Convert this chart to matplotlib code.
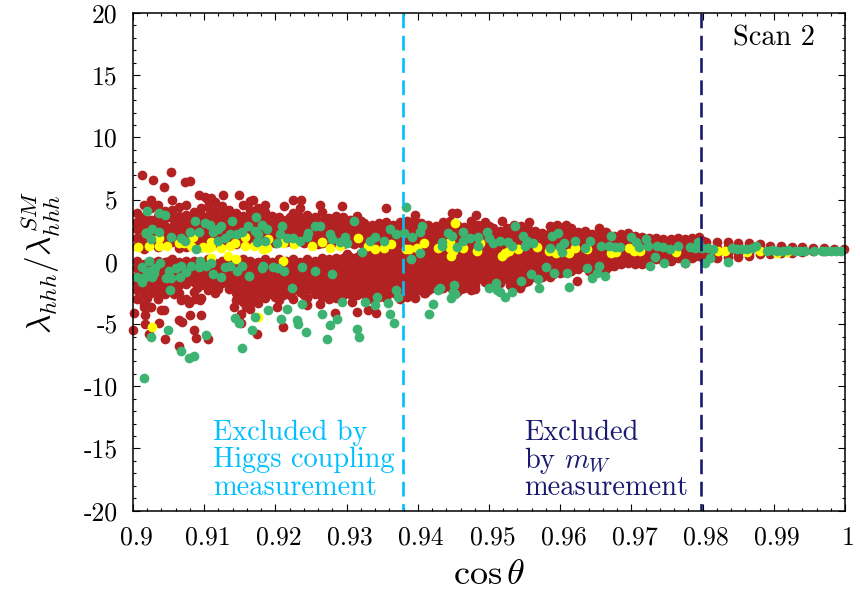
import matplotlib
matplotlib.use("Agg")
import matplotlib.pyplot as plt
from matplotlib.transforms import ScaledTranslation

plt.rcParams['mathtext.fontset'] = 'cm'
plt.rcParams['font.family'] = ['cmr10', 'DejaVu Serif']
plt.rcParams['axes.unicode_minus'] = False
plt.rcParams['axes.formatter.use_mathtext'] = True

x_ticks = [0.9, 0.91, 0.92, 0.93, 0.94, 0.95, 0.96, 0.97, 0.98, 0.99, 1.0]
x_tick_labels = ['0.9', '0.91', '0.92', '0.93', '0.94', '0.95', '0.96', '0.97', '0.98', '0.99', '1']
y_ticks = [-20, -15, -10, -5, 0, 5, 10, 15, 20]
y_tick_labels = ['-20', '-15', '-10', '-5', '0', '5', '10', '15', '20']

higgs_limit = 0.9379
mw_limit = 0.9798

# Dense red band, read column by column
red_col_x = [0.9005, 0.9015, 0.9025, 0.9035, 0.9045, 0.9055, 0.9065, 0.9075, 0.9085, 0.9095,
             0.9105, 0.9115, 0.9125, 0.9135, 0.9145, 0.9155, 0.9165, 0.9175, 0.9185, 0.9195,
             0.9205, 0.9215, 0.9225, 0.9235, 0.9245, 0.9255, 0.9265, 0.9275, 0.9285, 0.9295,
             0.9305, 0.9315, 0.9325, 0.9335, 0.9345, 0.9355, 0.9365, 0.9375, 0.9385, 0.9395,
             0.9405, 0.9415, 0.9425, 0.9435, 0.9445, 0.9455, 0.9465, 0.9475, 0.9485, 0.9495,
             0.9505, 0.9515, 0.9525, 0.9535, 0.9545, 0.9555, 0.9565, 0.9575, 0.9585, 0.9595,
             0.9605, 0.9615, 0.9625, 0.9635, 0.9645, 0.9655, 0.9665, 0.9675, 0.9685, 0.9695,
             0.9705, 0.9715, 0.9725, 0.9735, 0.9745, 0.9755, 0.9765, 0.9775, 0.9785, 0.9795,
             0.9805, 0.9820, 0.9835, 0.9850, 0.9865, 0.9880, 0.9895, 0.9910, 0.9925, 0.9940,
             0.9955, 0.9970, 0.9985, 0.9998]
red_col_y = [
    [3.9, 3.2, 2.6, 1.9, 1.3, 0.1, -0.5, -1.1, -1.7, -2.3, -3.0],
    [4.6, 3.6, 3.0, 2.3, 1.6, 1.0, -0.2, -0.8, -1.4, -2.0, -2.7, -3.4],
    [5.0, 4.3, 3.4, 2.8, 2.1, 1.4, 0.0, -0.6, -1.2, -1.9, -2.5, -3.6],
    [4.6, 3.7, 3.1, 2.5, 1.8, 1.2, 0.1, -0.5, -1.1, -1.7, -2.4, -3.0],
    [4.1, 3.5, 2.9, 2.2, 1.5, 0.0, -0.6, -1.3, -1.9, -2.6],
    [5.0, 4.2, 3.5, 2.8, 2.2, 1.6, 0.2, -0.4, -1.0, -1.6, -2.2],
    [4.4, 3.7, 3.0, 2.4, 1.7, 1.1, 0.0, -0.6, -1.2, -1.9, -2.5],
    [4.6, 3.8, 3.2, 2.5, 1.9, 1.2, 0.1, -0.5, -1.1, -1.8, -3.0],
    [4.0, 3.3, 2.7, 2.0, 1.4, 0.1, -0.4, -1.0, -1.6, -2.4],
    [4.3, 3.8, 3.1, 2.4, 1.8, 1.2, 0.0, -0.6, -1.2, -1.9, -2.9],
    [5.0, 4.4, 3.7, 3.0, 2.3, 1.6, 0.2, -0.4, -1.0, -1.6, -2.3],
    [4.8, 4.1, 3.4, 2.8, 2.2, 1.5, -0.1, -0.7, -1.3, -1.9, -2.5],
    [4.5, 3.8, 3.1, 2.4, 1.7, 0.1, -0.5, -1.1, -1.7],
    [4.2, 3.5, 2.9, 2.2, 1.6, 0.2, -0.4, -1.0, -1.6, -2.2],
    [3.9, 3.3, 2.7, 2.0, 1.4, 0.0, -0.6, -1.2, -1.9, -2.5, -3.1],
    [4.6, 3.7, 3.1, 2.4, 1.8, 0.2, -0.4, -1.0, -1.6, -2.3, -3.2],
    [4.9, 4.2, 3.5, 2.8, 2.2, 1.6, 0.1, -0.5, -1.1, -1.8, -2.5, -3.4],
    [4.3, 3.6, 3.0, 2.3, 1.7, 0.0, -0.6, -1.2, -1.8, -2.5, -3.3],
    [4.0, 3.4, 2.8, 2.1, 1.4, 0.2, -0.4, -1.0, -1.6, -2.2, -2.9],
    [3.7, 3.2, 2.5, 1.9, 0.0, -0.6, -1.2, -1.9, -2.6],
    [3.6, 3.0, 2.4, 1.7, 0.2, -0.4, -1.0, -1.7, -2.4, -3.1],
    [3.4, 2.8, 2.2, 1.6, 0.1, -0.5, -1.1, -1.8, -2.5],
    [3.9, 3.2, 2.6, 2.0, 1.5, 0.2, -0.4, -1.0, -1.7, -2.3, -3.0],
    [4.3, 3.6, 2.9, 2.3, 1.7, 0.0, -0.6, -1.2, -1.8, -2.4],
    [3.8, 3.1, 2.5, 1.8, 0.2, -0.4, -1.1, -1.7, -2.3, -2.9],
    [3.6, 3.0, 2.4, 1.7, 0.1, -0.5, -1.1, -1.8, -2.6],
    [4.0, 3.3, 2.7, 2.1, 1.5, 0.3, -0.3, -0.9, -1.5, -2.1, -2.8],
    [3.5, 2.9, 2.3, 1.7, 0.2, -0.4, -1.0, -1.6, -2.2, -3.0],
    [3.7, 3.0, 2.4, 1.8, 0.3, -0.3, -0.9, -1.5, -2.2, -2.9],
    [3.6, 3.1, 2.5, 1.9, 1.4, 0.3, -0.3, -0.9, -1.5, -2.1, -2.7],
    [3.4, 2.8, 2.2, 1.6, 0.4, -0.2, -0.8, -1.4, -2.0, -2.6],
    [3.7, 3.0, 2.4, 1.8, 0.4, -0.2, -0.8, -1.4, -2.0, -2.7],
    [3.1, 2.5, 1.9, 1.3, 0.5, -0.1, -0.7, -1.3, -1.9, -2.6],
    [3.0, 2.4, 1.8, 1.2, 0.6, 0.0, -0.6, -1.2, -1.8, -2.5, -3.0],
    [3.1, 2.5, 1.9, 1.3, 0.7, 0.1, -0.5, -1.1, -1.7, -2.3, -2.8],
    [3.2, 2.6, 2.0, 1.4, 0.8, 0.2, -0.4, -1.0, -1.6, -2.2, -2.9],
    [3.0, 2.4, 1.8, 1.2, 0.6, 0.0, -0.6, -1.2, -1.8, -2.4],
    [3.2, 2.6, 2.0, 1.4, 0.8, 0.2, -0.4, -1.0, -1.6, -2.2, -3.0],
    [3.3, 2.7, 2.1, 1.5, 0.9, 0.3, -0.3, -0.9, -1.5, -2.1, -2.7],
    [3.4, 2.8, 2.2, 1.6, 1.0, 0.4, -0.2, -0.8, -1.4, -2.0, -2.5],
    [3.1, 2.5, 1.9, 1.3, 0.7, 0.1, -0.5, -1.1, -1.7, -2.3],
    [3.0, 2.4, 1.8, 1.2, 0.6, 0.0, -0.6, -1.2, -1.8, -2.3],
    [2.9, 2.3, 1.7, 1.1, 0.5, -0.1, -0.7, -1.3, -1.9],
    [3.2, 2.6, 2.0, 1.4, 0.8, 0.2, -0.4, -1.0, -1.6, -2.1],
    [3.3, 2.7, 2.1, 1.5, 0.9, 0.3, -0.3, -0.9, -1.5, -2.0],
    [3.0, 2.4, 1.8, 1.2, 0.6, 0.0, -0.6, -1.2, -1.8, -2.4],
    [2.8, 2.2, 1.6, 1.0, 0.4, -0.2, -0.8, -1.4, -2.1],
    [3.3, 2.6, 2.0, 1.4, 0.8, 0.2, -0.4, -1.0, -1.6, -2.3],
    [3.0, 2.4, 1.8, 1.2, 0.6, 0.0, -0.6, -1.2],
    [3.2, 2.5, 1.9, 1.3, 0.7, 0.1, -0.5, -1.1, -1.6],
    [2.7, 2.1, 1.5, 0.9, 0.3, -0.3, -0.9, -1.4],
    [2.5, 1.9, 1.3, 0.7, 0.1, -0.5, -1.1, -1.7],
    [2.7, 2.1, 1.5, 0.9, 0.3, -0.3, -0.9, -1.3],
    [3.0, 2.4, 1.8, 1.2, 0.6, 0.0, -0.6, -1.2, -1.8],
    [2.9, 2.3, 1.7, 1.1, 0.5, -0.1, -0.7, -1.3, -1.9],
    [2.6, 2.0, 1.4, 0.8, 0.2, -0.4, -1.0, -1.5],
    [2.5, 1.9, 1.3, 0.7, 0.1, -0.5, -1.1],
    [2.3, 1.7, 1.1, 0.5, -0.1, -0.7, -1.1],
    [2.9, 2.3, 1.7, 1.1, 0.5, -0.1, -0.7, -1.2],
    [3.0, 2.4, 1.8, 1.2, 0.6, 0.0, -0.6],
    [2.8, 2.2, 1.6, 1.0, 0.4, -0.2, -0.8],
    [2.7, 2.1, 1.5, 0.9, 0.3, -0.3, -0.7],
    [2.4, 1.8, 1.2, 0.6, 0.0, -0.6],
    [2.5, 1.9, 1.3, 0.7, 0.1, -0.4],
    [2.2, 1.6, 1.0, 0.4, -0.2, -0.6],
    [2.7, 2.1, 1.5, 0.9, 0.3, -0.2, -0.7],
    [2.4, 1.8, 1.2, 0.6, 0.0, -0.6],
    [2.1, 1.5, 0.9, 0.3, -0.3],
    [2.2, 1.6, 1.0, 0.4, -0.2],
    [2.3, 1.7, 1.1, 0.5, -0.1],
    [2.1, 1.5, 0.9, 0.3, -0.2],
    [2.0, 1.4, 0.8, 0.2, -0.2],
    [1.9, 1.3, 0.7, 0.1],
    [1.9, 1.3, 0.7, 0.2],
    [1.8, 1.2, 0.6, 0.1],
    [1.8, 1.2, 0.7, 0.1],
    [1.9, 1.4, 0.8, 0.3],
    [1.8, 1.3, 0.7, 0.2, -0.1],
    [1.9, 1.4, 0.8, 0.3],
    [2.0, 1.5, 1.0, 0.5],
    [1.6, 1.1, 0.6, 0.2],
    [1.6, 1.1, 0.6, 0.3],
    [1.6, 1.2, 0.7, 0.4],
    [1.5, 1.1, 0.7, 0.4],
    [1.5, 1.1, 0.7, 0.5],
    [1.4, 1.0, 0.6],
    [1.3, 0.9, 0.6],
    [1.3, 0.9, 0.7],
    [1.2, 0.9, 0.7],
    [1.2, 0.9, 0.8],
    [1.1, 0.9],
    [1.1, 0.9],
    [1.05, 0.95],
    [1.0],
]

# In-between points that close up the dense band
red_fill_x = [0.9010, 0.9020, 0.9030, 0.9040, 0.9050, 0.9060, 0.9070, 0.9080, 0.9090, 0.9100,
              0.9110, 0.9120, 0.9130, 0.9140, 0.9150, 0.9160, 0.9170, 0.9180, 0.9190, 0.9200,
              0.9210, 0.9220, 0.9230, 0.9240, 0.9250, 0.9260, 0.9270, 0.9280, 0.9290, 0.9300,
              0.9310, 0.9320, 0.9330, 0.9340, 0.9350, 0.9360, 0.9370, 0.9380, 0.9390, 0.9400,
              0.9410, 0.9420, 0.9430, 0.9440, 0.9450, 0.9460, 0.9470, 0.9480, 0.9490, 0.9500,
              0.9510, 0.9520, 0.9530, 0.9540, 0.9550, 0.9560, 0.9570, 0.9580, 0.9590, 0.9600,
              0.9610, 0.9620, 0.9630, 0.9640, 0.9650, 0.9660, 0.9670, 0.9680, 0.9690, 0.9700,
              0.9710, 0.9720, 0.9730, 0.9740, 0.9750, 0.9760, 0.9770, 0.9780, 0.9790, 0.9800]
red_fill_y = [
    [3.4, 2.7, 1.7, -0.3, -0.9, -1.6, -2.2],
    [3.3, 2.6, 1.9, -0.4, -1.1, -1.7, -2.9],
    [3.1, 2.4, 1.6, -0.2, -0.9, -1.5, -2.1],
    [3.3, 2.7, 2.0, -0.3, -0.8, -1.5, -2.1],
    [3.7, 2.5, 1.8, 0.1, -1.0, -1.6],
    [3.1, 2.5, 1.9, -0.1, -0.9, -1.5, -2.4],
    [3.4, 2.7, 2.0, -0.3, -0.9, -1.6],
    [3.5, 2.8, 2.2, -0.2, -0.8, -1.4],
    [3.6, 3.0, 2.3, 1.6, -0.2, -0.8, -1.3, -2.1],
    [3.4, 2.8, 2.1, -0.3, -0.9, -1.6],
    [4.0, 3.3, 2.6, 1.9, -0.1, -0.7, -1.3, -1.9],
    [3.7, 3.1, 2.5, 1.8, -0.4, -1.0, -1.6, -2.2],
    [4.0, 3.4, 2.7, 2.0, -0.2, -0.8, -1.4],
    [3.8, 3.2, 2.5, 1.9, -0.1, -0.7, -1.3, -1.9],
    [3.6, 3.0, 2.3, 1.7, -0.3, -0.9, -1.6, -2.2, -2.8],
    [3.3, 2.7, 2.1, 1.5, -0.1, -0.7, -1.3, -2.0, -2.8],
    [3.8, 3.1, 2.5, 1.9, -0.2, -0.8, -1.4, -2.1, -2.9],
    [3.7, 3.1, 2.4, 1.9, -0.3, -0.9, -1.5, -2.2, -2.6],
    [3.1, 2.5, 1.8, -0.1, -0.7, -1.3, -1.9, -2.5],
    [3.3, 2.7, 2.1, 1.5, -0.3, -0.9, -1.5, -2.2, -2.8],
    [3.1, 2.6, 2.0, -0.1, -0.7, -1.4, -2.1, -2.7],
    [3.6, 2.9, 2.3, 1.7, 0.0, -0.7, -1.4, -2.1, -2.7],
    [3.5, 2.9, 2.2, 1.7, -0.1, -0.7, -1.3, -2.0],
    [3.4, 2.7, 2.1, 1.5, -0.2, -0.8, -1.5, -2.1, -2.7],
    [3.3, 2.7, 2.1, 1.5, -0.1, -0.8, -1.4, -2.0],
    [3.2, 2.7, 2.0, 1.4, 0.0, -0.6, -1.2, -1.9, -2.4],
    [3.5, 2.9, 2.2, 1.6, 0.0, -0.6, -1.2, -1.8, -2.5],
    [3.2, 2.6, 2.0, 1.5, 0.0, -0.7, -1.3, -1.9, -2.6],
    [3.3, 2.7, 2.1, 1.6, 0.0, -0.6, -1.2, -1.9, -2.5],
    [3.3, 2.7, 2.2, 1.7, 0.6, 0.0, -0.6, -1.2, -1.8, -2.4],
    [3.1, 2.5, 1.9, 1.4, 0.1, -0.5, -1.1, -1.7, -2.3],
    [3.3, 2.7, 2.1, 1.5, 0.7, 0.1, -0.5, -1.1, -1.7, -2.3],
    [2.8, 2.2, 1.6, 1.0, 0.2, -0.4, -1.0, -1.6, -2.2, -2.8],
    [2.7, 2.1, 1.5, 0.9, 0.3, -0.3, -0.9, -1.5, -2.1, -2.7],
    [2.8, 2.2, 1.6, 1.0, 0.4, -0.2, -0.8, -1.4, -2.0, -2.6],
    [2.9, 2.3, 1.7, 1.1, 0.5, -0.1, -0.7, -1.3, -1.9, -2.5],
    [2.7, 2.1, 1.5, 0.9, 0.3, -0.3, -0.9, -1.5, -2.1, -2.6],
    [2.9, 2.3, 1.7, 1.1, 0.5, -0.1, -0.7, -1.3, -1.9, -2.6],
    [3.0, 2.4, 1.8, 1.2, 0.6, 0.0, -0.6, -1.2, -1.8, -2.4],
    [3.1, 2.5, 1.9, 1.3, 0.7, 0.1, -0.5, -1.1, -1.7, -2.3],
    [2.8, 2.2, 1.6, 1.0, 0.4, -0.2, -0.8, -1.4, -2.0, -2.5],
    [2.7, 2.1, 1.5, 0.9, 0.3, -0.3, -0.9, -1.5, -2.1],
    [2.6, 2.0, 1.4, 0.8, 0.2, -0.4, -1.0, -1.6, -2.2],
    [2.9, 2.3, 1.7, 1.1, 0.5, -0.1, -0.7, -1.3, -1.8],
    [3.0, 2.4, 1.8, 1.2, 0.6, 0.0, -0.6, -1.2, -1.7],
    [2.7, 2.1, 1.5, 0.9, 0.3, -0.3, -0.9, -1.5, -2.2],
    [2.5, 1.9, 1.3, 0.7, 0.1, -0.5, -1.1, -1.7],
    [3.0, 2.3, 1.7, 1.1, 0.5, -0.1, -0.7, -1.3, -1.9],
    [2.7, 2.1, 1.5, 0.9, 0.3, -0.3, -0.9, -1.4],
    [2.9, 2.2, 1.6, 1.0, 0.4, -0.2, -0.8, -1.3],
    [2.4, 1.8, 1.2, 0.6, 0.0, -0.6, -1.2, -1.6],
    [2.2, 1.6, 1.0, 0.4, -0.2, -0.8, -1.4],
    [2.4, 1.8, 1.2, 0.6, 0.0, -0.6, -1.1],
    [2.7, 2.1, 1.5, 0.9, 0.3, -0.3, -0.9, -1.5],
    [2.6, 2.0, 1.4, 0.8, 0.2, -0.4, -1.0, -1.6],
    [2.3, 1.7, 1.1, 0.5, -0.1, -0.7, -1.2],
    [2.2, 1.6, 1.0, 0.4, -0.2, -0.8],
    [2.0, 1.4, 0.8, 0.2, -0.4, -0.9],
    [2.6, 2.0, 1.4, 0.8, 0.2, -0.4, -1.0],
    [2.7, 2.1, 1.5, 0.9, 0.3, -0.3, -0.9],
    [2.5, 1.9, 1.3, 0.7, 0.1, -0.5],
    [2.4, 1.8, 1.2, 0.6, 0.0, -0.5],
    [2.1, 1.5, 0.9, 0.3, -0.3],
    [2.2, 1.6, 1.0, 0.4, -0.2, -0.7],
    [1.9, 1.3, 0.7, 0.1, -0.4],
    [2.4, 1.8, 1.2, 0.6, 0.0, -0.5],
    [2.1, 1.5, 0.9, 0.3, -0.3],
    [1.8, 1.2, 0.6, 0.0],
    [1.9, 1.3, 0.7, 0.1],
    [2.0, 1.4, 0.8, 0.2],
    [1.8, 1.2, 0.6, 0.1],
    [1.7, 1.1, 0.5, 0.0],
    [1.6, 1.0, 0.4],
    [1.6, 1.0, 0.4],
    [1.5, 0.9, 0.4],
    [1.5, 0.9, 0.4],
    [1.6, 1.1, 0.5],
    [1.5, 1.0, 0.4],
    [1.6, 1.1, 0.5],
    [1.7, 1.2, 0.7, 0.3],
]

# Isolated red points
red_out_x = [0.9013, 0.9028, 0.9054, 0.9044, 0.9073, 0.9080, 0.9092, 0.9101, 0.9110, 0.9126, 0.9149, 0.9169,
             0.9185, 0.9212, 0.9225, 0.9236, 0.9263, 0.9293, 0.9356,
             0.9002, 0.9000, 0.9017, 0.9022, 0.9045, 0.9037, 0.9065, 0.9069, 0.9080, 0.9096, 0.9086, 0.9088,
             0.9105, 0.9065, 0.9142, 0.9152, 0.9152, 0.9174, 0.9210, 0.9284, 0.9315, 0.9330, 0.9341, 0.9263,
             0.9244, 0.9039, 0.9043, 0.9015, 0.9024, 0.9068, 0.9078, 0.9087, 0.9094, 0.9017, 0.9057, 0.9164,
             0.9159, 0.9202, 0.9307, 0.9288,
             0.9448, 0.9455, 0.9482, 0.9518, 0.9556, 0.9608, 0.9590, 0.9396, 0.9385, 0.9396, 0.9409, 0.9470,
             0.9623, 0.9544, 0.9575, 0.9440, 0.9460, 0.9480, 0.9530, 0.9500]
red_out_y = [7.0, 6.6, 7.2, 6.0, 6.4, 6.5, 5.4, 5.2, 5.1, 5.4, 5.4, 5.0,
             4.6, 4.5, 5.0, 5.0, 4.6, 4.5, 4.3,
             -4.1, -5.5, -5.0, -5.8, -6.2, -4.9, -4.7, -4.8, -4.3, -4.3, -5.5, -6.1,
             -6.2, -6.8, -3.6, -4.2, -4.9, -5.8, -5.2, -4.1, -4.0, -3.9, -4.1, -3.4,
             -3.5, -3.9, -3.9, -3.6, -3.6, -3.1, -3.3, -3.0, -3.1, -4.3, -2.6, -3.8,
             -3.6, -3.6, -3.2, -2.8,
             3.9, 3.9, 3.8, 3.3, 3.2, 3.0, 2.8, 3.8, -2.8, -2.9, -2.5, -2.0,
             -1.5, -2.1, -1.2, -1.9, -2.0, -2.2, -1.9, -1.8]

yellow_x = [0.9007, 0.9023, 0.9036, 0.9036, 0.9018, 0.9048, 0.9064, 0.9071, 0.9082, 0.9084, 0.9099, 0.9106,
            0.9110, 0.9110, 0.9124, 0.9136, 0.9143, 0.9157, 0.9157, 0.9170, 0.9183, 0.9188, 0.9190, 0.9211,
            0.9226, 0.9252, 0.9265, 0.9277, 0.9291, 0.9316, 0.9330, 0.9340, 0.9352, 0.9363, 0.9384,
            0.9110, 0.9133, 0.9145, 0.9210, 0.9026, 0.9176,
            0.9387, 0.9399, 0.9409, 0.9429, 0.9445, 0.9452, 0.9445, 0.9450, 0.9464, 0.9446, 0.9483, 0.9488,
            0.9518, 0.9523, 0.9528, 0.9541, 0.9567, 0.9584, 0.9594, 0.9612, 0.9621, 0.9637, 0.9672, 0.9679,
            0.9696, 0.9703, 0.9712, 0.9763, 0.9822, 0.9832, 0.9862, 0.9881, 0.9904, 0.9918]
yellow_y = [1.2, 1.3, 1.3, 1.9, 2.3, 1.3, 1.5, 1.5, 1.3, 2.0, 1.2, 1.1,
            1.6, 1.2, 1.1, 1.3, 1.5, 1.3, 2.0, 1.3, 1.0, 1.1, 1.8, 1.5,
            1.4, 1.3, 1.6, 1.1, 1.3, 1.9, 1.3, 1.0, 1.1, 1.4, 1.0,
            0.3, 0.5, 0.2, 0.1, -5.2, -4.4,
            1.0, 1.1, 1.5, 1.1, 1.6, 3.1, 1.1, 0.9, 1.1, 0.5, 0.9, 1.5,
            0.5, 0.7, 0.9, 1.0, 1.2, 0.9, 0.7, 0.7, 1.1, 1.0, 0.7, 0.8,
            1.1, 0.9, 0.9, 0.8, 0.9, 0.9, 0.8, 0.9, 0.7, 0.8]

green_upper_x = [0.9020, 0.9036, 0.9045, 0.9018, 0.9026, 0.9036, 0.9025, 0.9053, 0.9068, 0.9073, 0.9080, 0.9087,
                 0.9092, 0.9101, 0.9108, 0.9113, 0.9120, 0.9124, 0.9120, 0.9129, 0.9136, 0.9146, 0.9153, 0.9139,
                 0.9162, 0.9171, 0.9176, 0.9174, 0.9185, 0.9181, 0.9188, 0.9173, 0.9209, 0.9206, 0.9202, 0.9216,
                 0.9225, 0.9234, 0.9246, 0.9244, 0.9256, 0.9263, 0.9277, 0.9279, 0.9298, 0.9291, 0.9300, 0.9310,
                 0.9333, 0.9340, 0.9352, 0.9361, 0.9370, 0.9380, 0.9384, 0.9322, 0.9088,
                 0.9406, 0.9403, 0.9392, 0.9403, 0.9391, 0.9434, 0.9434, 0.9443, 0.9448, 0.9463, 0.9464, 0.9473,
                 0.9485, 0.9455, 0.9485, 0.9497, 0.9500, 0.9506, 0.9516, 0.9527, 0.9532, 0.9537, 0.9548, 0.9553,
                 0.9562, 0.9551, 0.9586, 0.9588, 0.9597, 0.9600, 0.9605, 0.9602, 0.9621, 0.9635, 0.9642, 0.9658,
                 0.9668, 0.9677, 0.9672, 0.9684, 0.9699, 0.9707, 0.9710, 0.9721, 0.9724, 0.9736, 0.9745, 0.9754,
                 0.9766, 0.9782, 0.9789, 0.9794, 0.9799, 0.9808, 0.9815, 0.9841, 0.9848, 0.9855, 0.9862, 0.9869,
                 0.9875, 0.9890, 0.9897, 0.9904, 0.9913, 0.9920, 0.9930, 0.9937, 0.9944, 0.9956, 0.9967, 0.9974,
                 0.9981, 0.9988, 0.9995]
green_upper_y = [4.1, 3.9, 3.8, 2.3, 2.6, 2.4, 1.8, 2.0, 1.9, 1.7, 2.4, 3.3,
                 2.4, 3.1, 3.0, 2.4, 2.6, 2.9, 1.7, 1.9, 2.2, 2.2, 2.4, 3.3,
                 2.9, 2.5, 2.2, 1.6, 1.7, 3.0, 2.6, 3.6, 2.9, 2.2, 1.5, 1.9,
                 1.9, 1.7, 2.3, 2.0, 2.9, 2.9, 2.2, 1.8, 2.0, 1.6, 1.5, 3.3,
                 1.7, 2.0, 1.7, 2.6, 2.2, 2.3, 4.4, 0.8, 1.0,
                 2.9, 2.4, 2.0, 0.7, 0.2, 1.6, 1.3, 2.3, 2.1, 2.4, 1.7, 1.9,
                 2.0, 1.2, 1.3, 2.4, 1.9, 1.5, 1.7, 1.6, 1.3, 2.9, 2.1, 1.7,
                 1.5, 1.3, 1.1, 2.1, 2.3, 1.2, 1.5, 0.8, 1.7, 1.1, 1.7, 1.3,
                 1.3, 1.2, 2.1, 1.2, 2.0, 1.6, 1.2, 1.8, 1.3, 1.3, 1.2, 1.0,
                 1.3, 1.2, 1.1, 1.6, 1.1, 1.1, 1.0, 1.1, 1.05, 1.05, 1.0, 1.1,
                 1.3, 0.9, 0.95, 0.9, 0.9, 0.95, 0.9, 0.9, 0.9, 0.9, 0.9, 0.9,
                 0.9, 0.9, 0.9]

green_lower_x = [0.9022, 0.9012, 0.9005, 0.9012, 0.9019, 0.9024, 0.9029, 0.9031, 0.9038, 0.9017, 0.9026, 0.9050,
                 0.9054, 0.9047, 0.9061, 0.9066, 0.9068, 0.9075, 0.9082, 0.9092, 0.9094, 0.9103, 0.9110, 0.9113,
                 0.9124, 0.9129, 0.9136, 0.9146, 0.9153, 0.9163, 0.9182, 0.9181, 0.9197, 0.9204, 0.9212, 0.9237,
                 0.9256, 0.9279, 0.9224, 0.9052, 0.9293, 0.9326, 0.9342, 0.9340, 0.9358, 0.9370, 0.9372, 0.9361,
                 0.9366, 0.9237, 0.9216, 0.9266, 0.9287, 0.9277, 0.9273, 0.9315, 0.9318, 0.9243, 0.9232, 0.9230,
                 0.9208, 0.9189, 0.9171, 0.9167, 0.9153, 0.9143, 0.9149, 0.9102, 0.9067, 0.9079, 0.9086, 0.9049,
                 0.9025, 0.9015,
                 0.9431, 0.9429, 0.9451, 0.9449, 0.9452, 0.9446, 0.9421, 0.9416, 0.9500, 0.9510, 0.9511, 0.9516,
                 0.9523, 0.9532, 0.9545, 0.9559, 0.9569, 0.9570, 0.9591, 0.9609, 0.9612, 0.9580, 0.9637, 0.9644,
                 0.9651, 0.9655, 0.9663, 0.9726, 0.9733, 0.9746, 0.9775, 0.9803, 0.9810, 0.9836]
green_lower_y = [0.1, -0.4, -1.2, -1.6, -0.8, -0.7, -0.9, -0.5, -0.1, -1.2, -1.2, -0.7,
                 -1.3, -1.3, -0.5, -1.2, -0.3, -0.8, -0.3, -0.4, 0.1, -0.3, -0.1, -1.0,
                 -1.2, -0.4, -0.3, -0.7, -0.3, -1.1, -0.3, -0.5, -0.4, -0.5, -0.7, -0.4,
                 -0.7, -1.0, -2.1, -2.3, -3.2, -3.2, -2.8, -3.5, -3.3, -2.3, -2.8, -4.2,
                 -4.9, -3.4, -3.8, -4.2, -4.6, -5.1, -6.2, -5.4, -6.0, -5.6, -5.0, -4.7,
                 -4.6, -3.9, -4.4, -5.5, -6.9, -4.5, -4.9, -5.9, -7.2, -7.7, -7.6, -5.5,
                 -6.0, -9.3,
                 -2.1, -2.3, -1.9, -2.4, -2.6, -2.9, -3.4, -4.2, -2.1, -1.7, -2.3, -2.4,
                 -2.8, -2.4, -1.5, -1.0, -1.4, -2.1, -0.9, -0.9, -2.0, -0.4, -0.5, -1.3,
                 -0.9, -0.3, -1.1, -0.3, 0.4, -0.1, -0.1, -0.1, 0.3, 0.0]

RED = '#B22222'
YELLOW = '#FFFF00'
GREEN = '#3CB371'
CYAN = '#00BFFF'
NAVY = '#191970'
MS = 7.0

fig = plt.figure(figsize=(8.6, 5.92), dpi=100)
ax = fig.add_axes([133/860, 1 - 510.7/592, (845 - 133)/860, (510.7 - 13)/592])

for cx, ys in zip(red_col_x, red_col_y):
    ax.plot([cx] * len(ys), ys, 'o', color=RED, ms=MS, mew=0, clip_on=False)
for cx, ys in zip(red_fill_x, red_fill_y):
    ax.plot([cx] * len(ys), ys, 'o', color=RED, ms=MS, mew=0, clip_on=False)
ax.plot(red_out_x, red_out_y, 'o', color=RED, ms=MS, mew=0, clip_on=False)
ax.plot(yellow_x, yellow_y, 'o', color=YELLOW, ms=MS, mew=0, clip_on=False)
ax.plot(green_upper_x, green_upper_y, 'o', color=GREEN, ms=MS, mew=0, clip_on=False)
ax.plot(green_lower_x, green_lower_y, 'o', color=GREEN, ms=MS, mew=0, clip_on=False)

ax.plot([higgs_limit, higgs_limit], [20, -20], color=CYAN, lw=1.9, dashes=(5.6, 2.85))
ax.plot([mw_limit, mw_limit], [20, -20], color=NAVY, lw=1.9, dashes=(5.6, 2.85))

ax.set_xlim(0.9, 1.0)
ax.set_ylim(-20, 20)
ax.set_xticks(x_ticks)
ax.set_xticklabels(x_tick_labels)
ax.set_yticks(y_ticks)
ax.set_yticklabels(y_tick_labels)
ax.set_xticks([0.9 + 0.002 * i for i in range(51)], minor=True)
ax.set_yticks(list(range(-20, 21)), minor=True)
ax.tick_params(which='major', direction='in', length=5.3, width=0.8, top=True, right=True,
               labelsize=18.5, pad=11)
ax.tick_params(which='minor', direction='in', length=2.5, width=0.8, top=True, right=True)
label_shift = ScaledTranslation(3.5/100, 0, fig.dpi_scale_trans)
for lab in ax.get_xticklabels():
    lab.set_transform(lab.get_transform() + label_shift)
for s in ax.spines.values():
    s.set_linewidth(1.1)
    s.set_zorder(5)

fig.text(41/860, 1 - 263/592, r'$\lambda_{hhh}/\lambda_{hhh}^{SM}$', rotation=90, fontsize=24,
         ha='center', va='center')
fig.text(489/860, 1 - 575/592, r'$\cos\theta$', fontsize=26, ha='center', va='center')

for txt, yv in zip(['Excluded by', 'Higgs coupling', 'measurement'], [-13.75, -15.95, -18.15]):
    ax.text(0.9113, yv, txt, color=CYAN, fontsize=20.4, ha='left', va='center')
ax.text(0.9549, -13.75, 'Excluded', color=NAVY, fontsize=20.4, ha='left', va='center')
ax.text(0.9549, -15.95, r'by $m_W$', color=NAVY, fontsize=20.4, ha='left', va='center')
ax.text(0.9549, -18.15, 'measurement', color=NAVY, fontsize=20.4, ha='left', va='center')
ax.text(0.9843, 18.0, 'Scan 2', color='black', fontsize=20.4, ha='left', va='center')

fig.savefig('out.png', dpi=100)
